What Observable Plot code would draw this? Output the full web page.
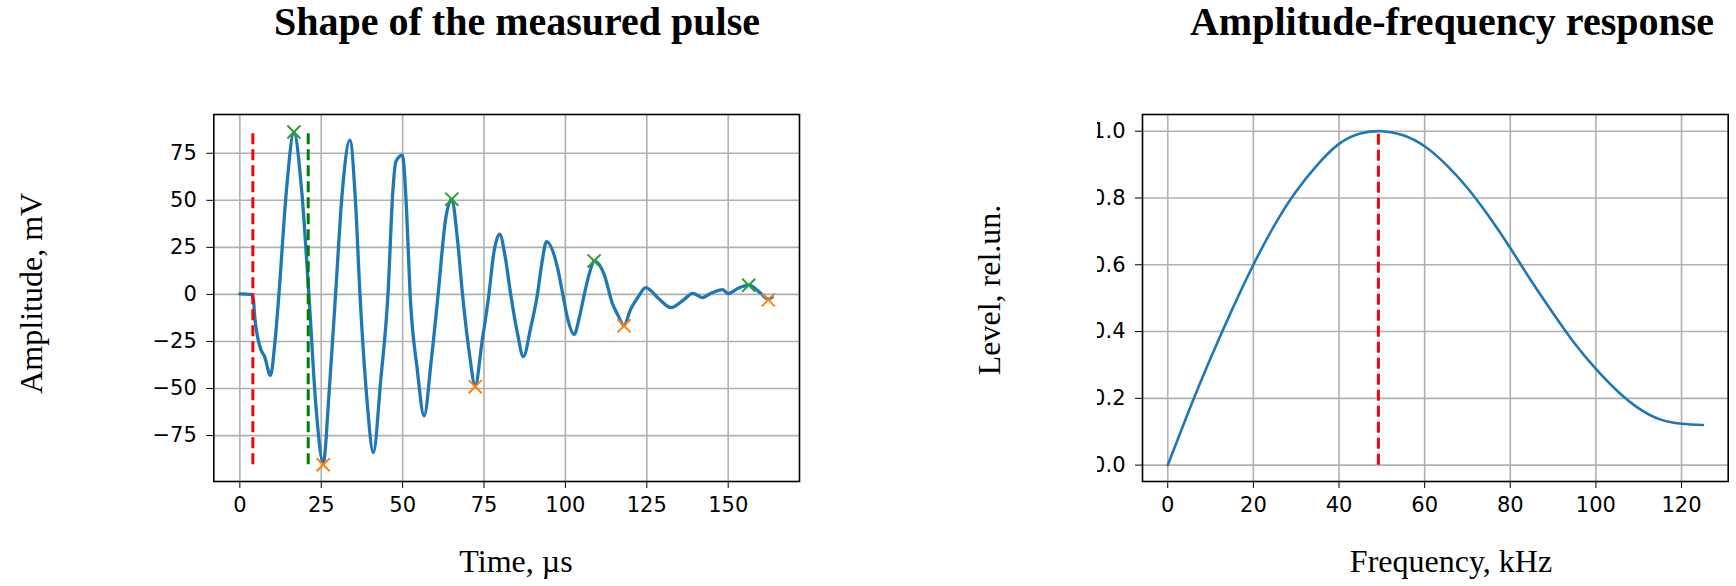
<!DOCTYPE html>
<html><head><meta charset="utf-8">
<script src="https://cdn.jsdelivr.net/npm/d3@7"></script>
<script src="https://cdn.jsdelivr.net/npm/@observablehq/plot@0.6"></script>
<style>
html,body{margin:0;padding:0;background:#fff;}
#page{position:relative;width:1736px;height:586px;overflow:hidden;background:#fff;}
#left{position:absolute;left:0;top:0;}
#right{position:absolute;left:1097px;top:0;width:639px;height:586px;overflow:hidden;}
#overlay{position:absolute;left:0;top:0;pointer-events:none;}
</style></head>
<body><div id="page"><div id="left"></div><div id="right"></div></div>
<script>
// ---- Data: measured pulse (time in µs, amplitude in mV) ----
const pulseTime = [0, 3.5, 4.2, 4.5, 6.4, 7.6, 9.4, 10.8, 12.0, 14.3, 16.6, 19.0, 21.2, 23.4, 25.6, 27.5, 29.4, 31.5, 33.8, 35.5, 36.9, 39.0, 41.0, 43.3, 45.5, 47.0, 47.9, 49.9, 51.2, 52.3, 54.5, 56.6, 58.8, 60.9, 63.2, 65.1, 66.8, 68.4, 70.4, 72.3, 74.4, 76.5, 78.0, 79.8, 81.5, 83.2, 85.2, 87.1, 89.3, 91.4, 92.8, 94.2, 97.6, 99.2, 100.6, 102.7, 104.3, 105.8, 107.5, 108.8, 111.9, 114.5, 116.0, 118.0, 120.0, 122.2, 124.7, 128.5, 132.4, 136.5, 139.1, 142.1, 144.7, 148.3, 150.0, 152.9, 156.3, 160.0, 162.3, 163.5];
const pulseMv   = [0.3, 0, -3, -10.5, -29, -33, -43, -25, 0, 55, 86, 55, 0, -60, -89.5, -50, 0, 55, 82, 50, 0, -55, -84, -45, 0, 55, 70.5, 74, 45, 0, -40, -64.5, -35, 0, 40, 50.6, 30, 0, -30, -48.5, -25, 0, 22, 32, 20, 0, -20, -33, -18, 0, 17, 28, 14, 0, -12.3, -21.2, -12, 0, 12, 17.8, 10.7, -5.2, -10.5, -16.5, -8, -1.7, 3.6, -2, -7, -2.6, 0.6, -1.7, 0.6, 2.6, 0.4, 3.1, 4.9, 0.6, -2.5, -1.5];
const peakTime = [16.6, 65.1, 108.8, 156.3];
const peakMv = [86.3, 50.6, 17.8, 4.9];
const troughTime = [25.6, 72.3, 118.0, 162.3];
const troughMv = [-90.5, -49.0, -16.7, -2.9];
const onsetTime = [4.0];     // red dashed
const arrivalTime = [21.0];  // green dashed
const markerSpan = [-90.5, 86.5];
const pulseXTicks = [0, 25, 50, 75, 100, 125, 150];
const pulseYTicks = [-75, -50, -25, 0, 25, 50, 75];

// ---- Data: amplitude-frequency response ----
const freqKHz = [0, 5, 10, 15, 20, 25, 30, 35, 40, 45, 50, 55, 60, 65, 70, 75, 80, 85, 90, 95, 100, 105, 110, 115, 120, 125];
const levelRel = [0, 0.165, 0.32, 0.465, 0.60, 0.72, 0.82, 0.90, 0.962, 0.993, 1.0, 0.988, 0.955, 0.90, 0.83, 0.745, 0.65, 0.55, 0.455, 0.365, 0.288, 0.222, 0.17, 0.137, 0.124, 0.12];
const peakFreq = [49.2];
const freqXTicks = [0, 20, 40, 60, 80, 100, 120];
const freqYTicks = [0, 0.2, 0.4, 0.6, 0.8, 1.0];

// ---- Texts ----
const titles = ["Shape of the measured pulse", "Amplitude-frequency response"];
const xLabels = ["Time, \u00b5s", "Frequency, kHz"];
const yLabels = ["Amplitude, mV", "Level, rel.un."];

const minusFmt = d => (d < 0 ? "\u2212" + Math.abs(d) : String(d));
const plotStyle = {fontFamily: "'DejaVu Sans', sans-serif", fontSize: "21px", color: "#000", background: "transparent", overflow: "visible"};
const gridStyle = {stroke: "#b0b0b0", strokeOpacity: 1, strokeWidth: 1.6};

const pulse = pulseTime.map((t, i) => ({t, v: pulseMv[i]}));
const peaks = peakTime.map((t, i) => ({t, v: peakMv[i]}));
const troughs = troughTime.map((t, i) => ({t, v: troughMv[i]}));

const leftPlot = Plot.plot({
  width: 830, height: 586,
  marginLeft: 213.3, marginRight: 31, marginTop: 114, marginBottom: 105,
  style: plotStyle,
  x: {domain: [-8, 171.9], ticks: pulseXTicks, tickFormat: minusFmt, tickSize: 7, tickPadding: 9, label: null},
  y: {domain: [-99.4, 95.6], ticks: pulseYTicks, tickFormat: minusFmt, tickSize: 7, tickPadding: 10, label: null},
  marks: [
    Plot.gridX(pulseXTicks, gridStyle),
    Plot.gridY(pulseYTicks, gridStyle),
    Plot.line(pulse, {x: "t", y: "v", stroke: "#1f77b4", strokeWidth: 3.3, curve: "monotone-x"}),
    Plot.dot(peaks, {x: "t", y: "v", symbol: "times", r: 6, stroke: "#2ca02c", strokeWidth: 2}),
    Plot.dot(troughs, {x: "t", y: "v", symbol: "times", r: 6, stroke: "#ff7f0e", strokeWidth: 2}),
    Plot.ruleX(onsetTime, {x: d => d, y1: markerSpan[0], y2: markerSpan[1], stroke: "#ff0000", strokeWidth: 3, strokeDasharray: "11,5"}),
    Plot.ruleX(arrivalTime, {x: d => d, y1: markerSpan[0], y2: markerSpan[1], stroke: "#008000", strokeWidth: 3, strokeDasharray: "11,5"}),
    Plot.frame({stroke: "#000", strokeWidth: 1.6})
  ]
});
document.getElementById("left").appendChild(leftPlot);

const response = freqKHz.map((f, i) => ({f, l: levelRel[i]}));
const rightPlot = Plot.plot({
  width: 639, height: 586,
  marginLeft: 45, marginRight: 8.3, marginTop: 114, marginBottom: 105,
  style: plotStyle,
  x: {domain: [-5.9, 130.9], ticks: freqXTicks, tickFormat: d => String(d), tickSize: 7, tickPadding: 9, label: null},
  y: {domain: [-0.049, 1.05], ticks: freqYTicks, tickFormat: d3.format(".1f"), tickSize: 7, tickPadding: 10, label: null},
  marks: [
    Plot.gridX(freqXTicks, gridStyle),
    Plot.gridY(freqYTicks, gridStyle),
    Plot.line(response, {x: "f", y: "l", stroke: "#1f77b4", strokeWidth: 2.6, curve: "natural"}),
    Plot.ruleX(peakFreq, {x: d => d, y1: 0, y2: 1, stroke: "#ff0000", strokeWidth: 3, strokeDasharray: "11,5"}),
    Plot.frame({stroke: "#000", strokeWidth: 1.6})
  ]
});
document.getElementById("right").appendChild(rightPlot);

// ---- Overlay text (titles and axis labels) ----
const page = d3.select("#page");
const svg = page.append("svg").attr("id", "overlay").attr("width", 1736).attr("height", 586)
  .style("font-family", "'Liberation Serif', 'Times New Roman', serif").style("fill", "#000");
const centers = [517, 1452];
titles.forEach((t, i) => svg.append("text").attr("x", centers[i]).attr("y", 35)
  .attr("text-anchor", "middle").attr("font-size", 40).attr("font-weight", "bold").text(t));
xLabels.forEach((t, i) => svg.append("text").attr("x", centers[i] - 1).attr("y", 571.7)
  .attr("text-anchor", "middle").attr("font-size", 32).text(t));
const yPos = [[41.7, 293.3], [1000, 290]];
yLabels.forEach((t, i) => svg.append("text")
  .attr("transform", `translate(${yPos[i][0]},${yPos[i][1]}) rotate(-90)`)
  .attr("text-anchor", "middle").attr("font-size", 32).text(t));
</script>
</body></html>
